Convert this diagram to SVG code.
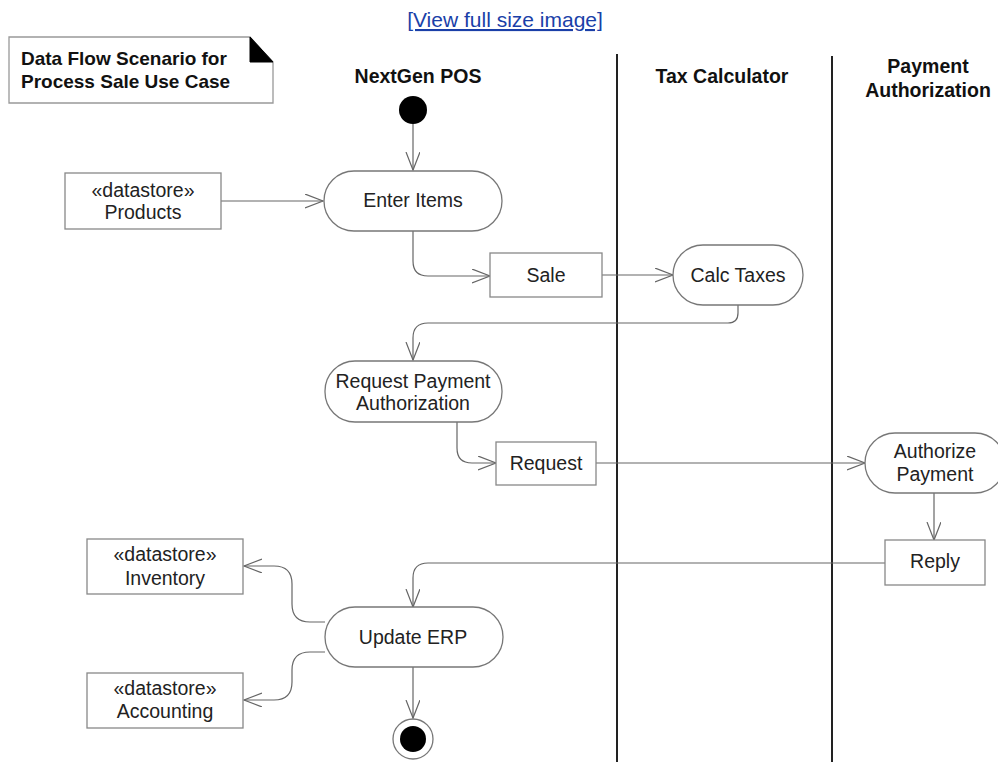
<svg xmlns="http://www.w3.org/2000/svg" width="998" height="762" viewBox="0 0 998 762">
<style>
text{font-family:"Liberation Sans",Arial,sans-serif;fill:#222;}
.t{font-size:19.5px;text-anchor:middle;}
.h{font-size:19.5px;font-weight:bold;text-anchor:middle;fill:#111;}
.n{font-size:19px;font-weight:bold;fill:#111;}
.box{fill:#fff;stroke:#888;stroke-width:1.3;}
.act{fill:#fff;stroke:#777;stroke-width:1.3;}
.c{fill:none;stroke:#666;stroke-width:1.2;}
.lane{stroke:#222;stroke-width:2;}
</style>
<defs>
<marker id="arr" markerUnits="userSpaceOnUse" markerWidth="20" markerHeight="16" refX="18" refY="7" orient="auto">
<path d="M0,0 L18,7 L0,14" fill="none" stroke="#666" stroke-width="1.2"/>
</marker>
</defs>
<rect width="998" height="762" fill="#fff"/>
<g id="link">
<text x="505" y="27" style="font-size:21px;text-anchor:middle;fill:#1a3fa8;" text-decoration="underline">[View full size image]</text>
</g>
<g id="note">
<path d="M9,37 L250,37 L273,62 L273,103 L9,103 Z" fill="#fff" stroke="#999" stroke-width="1.3"/>
<path d="M250,37 L250,62 L273,62 Z" fill="#000" stroke="#000"/>
<text class="n" x="21" y="65">Data Flow Scenario for</text>
<text class="n" x="21" y="88">Process Sale Use Case</text>
</g>
<g id="lanes">
<line class="lane" x1="617" y1="54" x2="617" y2="762"/>
<line class="lane" x1="832" y1="56" x2="832" y2="762" stroke="#444"/>
<text class="h" x="418" y="83">NextGen POS</text>
<text class="h" x="722" y="83">Tax Calculator</text>
<text class="h" x="928" y="73">Payment</text>
<text class="h" x="928" y="97">Authorization</text>
</g>
<g id="connectors">
<path class="c" d="M413,124 L413,170" marker-end="url(#arr)"/>
<path class="c" d="M221,201 L323,201" marker-end="url(#arr)"/>
<path class="c" d="M413,231 L413,261 Q413,276 428,276 L490,276" marker-end="url(#arr)"/>
<path class="c" d="M602,275 L673,275" marker-end="url(#arr)"/>
<path class="c" d="M738,305 L738,313 Q738,323 728,323 L428,323 Q413,323 413,338 L413,360" marker-end="url(#arr)"/>
<path class="c" d="M457,422 L457,448 Q457,463 472,463 L496,463" marker-end="url(#arr)"/>
<path class="c" d="M596,463 L865,463" marker-end="url(#arr)"/>
<path class="c" d="M934,493 L934,540" marker-end="url(#arr)"/>
<path class="c" d="M885,563 L428,563 Q413,563 413,578 L413,607" marker-end="url(#arr)"/>
<path class="c" d="M325,622 L310,622 Q292,622 292,604 L292,584 Q292,566 274,566 L244,566" marker-end="url(#arr)"/>
<path class="c" d="M325,652 L310,652 Q292,652 292,670 L292,682 Q292,700 274,700 L244,700" marker-end="url(#arr)"/>
<path class="c" d="M413,667 L413,718" marker-end="url(#arr)"/>
</g>
<g id="initial"><circle cx="413" cy="110" r="14" fill="#000"/></g>
<g id="products">
<rect class="box" x="65" y="173" width="156" height="56"/>
<text class="t" x="143" y="197">«datastore»</text>
<text class="t" x="143" y="219">Products</text>
</g>
<g id="enterItems">
<rect class="act" x="324" y="171" width="178" height="60" rx="30"/>
<text class="t" x="413" y="207">Enter Items</text>
</g>
<g id="sale">
<rect class="box" x="490" y="253" width="112" height="44"/>
<text class="t" x="546" y="282">Sale</text>
</g>
<g id="calcTaxes">
<rect class="act" x="673" y="245" width="130" height="60" rx="30"/>
<text class="t" x="738" y="282">Calc Taxes</text>
</g>
<g id="requestPaymentAuth">
<rect class="act" x="325" y="361" width="177" height="61" rx="30"/>
<text class="t" x="413" y="388">Request Payment</text>
<text class="t" x="413" y="410">Authorization</text>
</g>
<g id="request">
<rect class="box" x="496" y="442" width="100" height="43"/>
<text class="t" x="546" y="470">Request</text>
</g>
<g id="authorizePayment">
<rect class="act" x="865" y="433" width="140" height="60" rx="30"/>
<text class="t" x="935" y="458">Authorize</text>
<text class="t" x="935" y="481">Payment</text>
</g>
<g id="reply">
<rect class="box" x="885" y="540" width="100" height="45"/>
<text class="t" x="935" y="568">Reply</text>
</g>
<g id="updateERP">
<rect class="act" x="325" y="607" width="178" height="60" rx="30"/>
<text class="t" x="413" y="644">Update ERP</text>
</g>
<g id="inventory">
<rect class="box" x="87" y="539" width="156" height="55"/>
<text class="t" x="165" y="561">«datastore»</text>
<text class="t" x="165" y="585">Inventory</text>
</g>
<g id="accounting">
<rect class="box" x="87" y="673" width="156" height="55"/>
<text class="t" x="165" y="695">«datastore»</text>
<text class="t" x="165" y="718">Accounting</text>
</g>
<g id="final">
<circle cx="413" cy="739" r="20" fill="#fff" stroke="#777" stroke-width="1.3"/>
<circle cx="413" cy="739" r="13" fill="#000"/>
</g>
</svg>
